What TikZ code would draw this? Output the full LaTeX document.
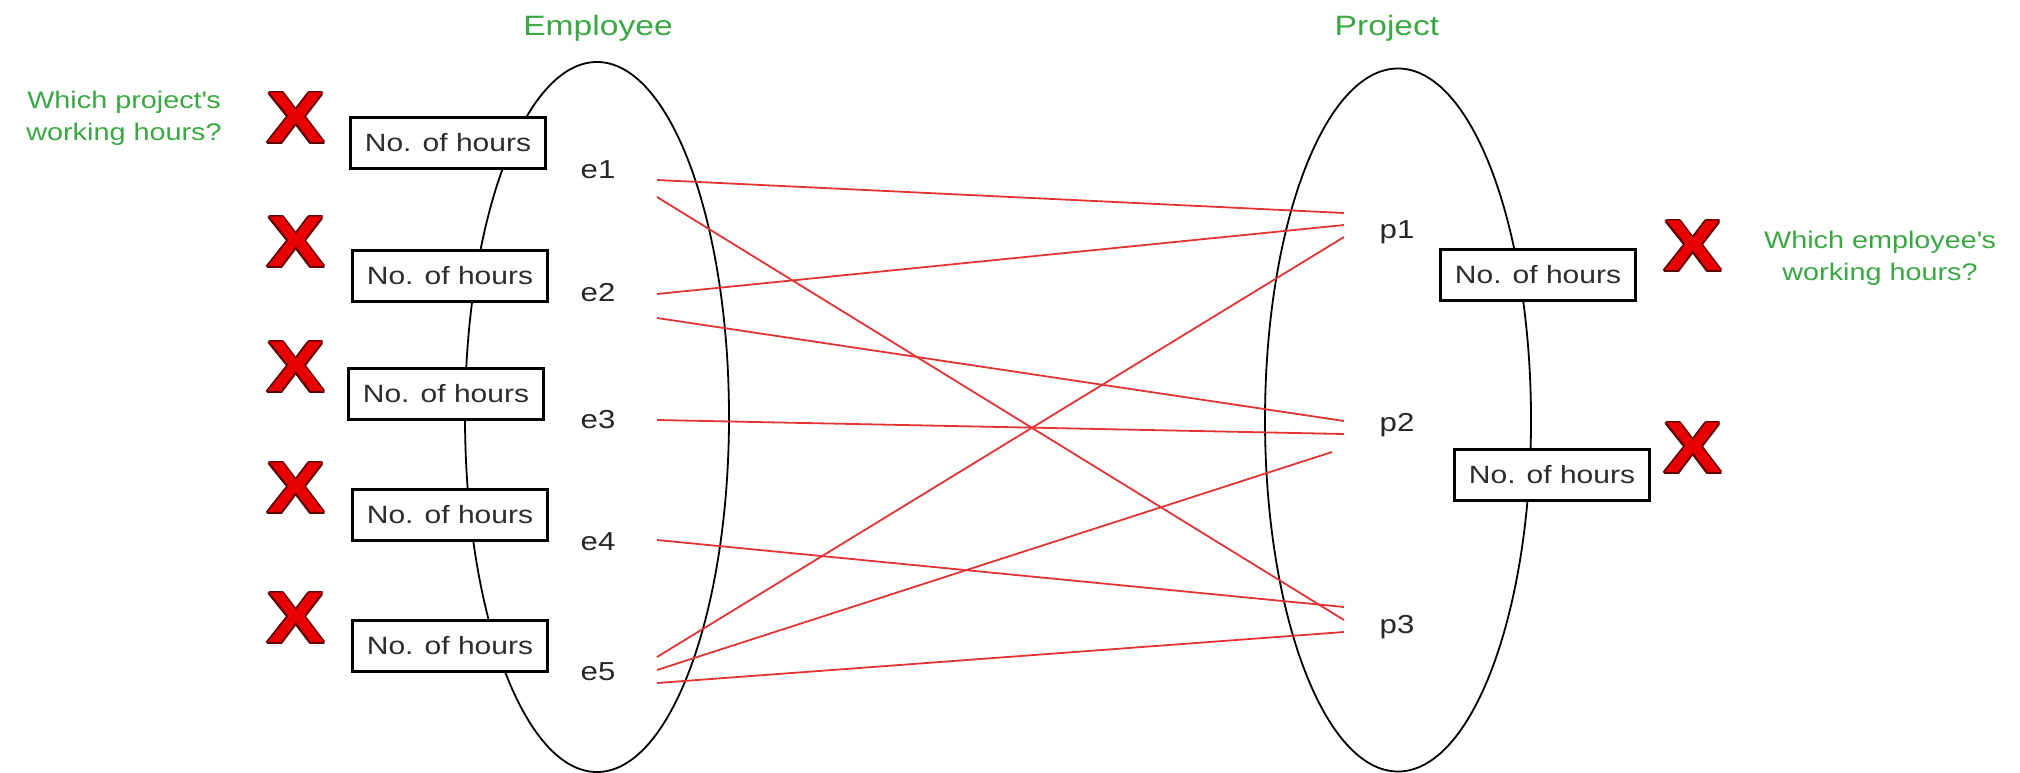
\documentclass[tikz,border=0pt]{standalone}
\usepackage{fontspec}
\setmainfont{Liberation Sans}[FakeStretch=1.2]
\usepackage{contour}
\contourlength{1.6pt}
\usetikzlibrary{shapes.geometric}
\definecolor{titlegreen}{RGB}{58,168,66}
\definecolor{linkred}{RGB}{226,52,52}
\definecolor{crossred}{RGB}{232,0,0}
\definecolor{crossedge}{RGB}{95,0,0}
\definecolor{boxtext}{RGB}{45,45,45}
\begin{document}
\begin{tikzpicture}[x=1pt,y=-1pt,
  entityset/.style={draw, ellipse, line width=1.8pt, inner sep=0pt},
  hours/.style={draw, fill=white, line width=2.4pt, minimum width=195pt,
    minimum height=51pt, inner sep=0pt, text=boxtext,
    font=\fontsize{25}{30}\selectfont},
  elem/.style={inner sep=0pt, text=black!85, font=\fontsize{26}{30}\selectfont},
  settitle/.style={anchor=base, inner sep=0pt, text=titlegreen,
    font=\fontsize{28}{32}\selectfont},
  question/.style={align=center, inner sep=0pt, text=titlegreen,
    font=\fontsize{24}{32}\selectfont},
  cross/.style={inner sep=0pt, text=crossred,
    font=\fontsize{72}{80}\selectfont\bfseries},
  link/.style={draw=linkred, line width=1.8pt}]
\useasboundingbox (0,0) rectangle (2020,773);

% entity sets
\node[entityset, minimum width=264pt, minimum height=710pt] (empset) at (597,417) {};
\node[entityset, minimum width=266pt, minimum height=703pt] (projset) at (1398,420) {};
\node[settitle] (emptitle) at (598,36) {Employee};
\node[settitle] (projtitle) at (1387,36) {Project};

% members
\node[elem] (e1) at (598,170) {e1};
\node[elem] (e2) at (598,293) {e2};
\node[elem] (e3) at (598,420) {e3};
\node[elem] (e4) at (598,542) {e4};
\node[elem] (e5) at (598,672) {e5};
\node[elem] (p1) at (1397,232) {p1};
\node[elem] (p2) at (1397,425) {p2};
\node[elem] (p3) at (1397,627) {p3};

% link end points
\coordinate (e1a) at (657,180);
\coordinate (e1b) at (657,197);
\coordinate (e2a) at (657,294);
\coordinate (e2b) at (657,318);
\coordinate (e3a) at (657,420);
\coordinate (e4a) at (657,540);
\coordinate (e5a) at (657,657);
\coordinate (e5b) at (657,670);
\coordinate (e5c) at (657,683);
\coordinate (p1a) at (1344,213);
\coordinate (p1b) at (1344,225);
\coordinate (p1c) at (1344,237);
\coordinate (p2a) at (1344,421);
\coordinate (p2b) at (1344,434);
\coordinate (p2c) at (1332,452);
\coordinate (p3a) at (1344,607);
\coordinate (p3b) at (1344,620);
\coordinate (p3c) at (1344,632);

% relationship lines
\draw[link] (e1a) -- (p1a);
\draw[link] (e1b) -- (p3b);
\draw[link] (e2a) -- (p1b);
\draw[link] (e2b) -- (p2a);
\draw[link] (e3a) -- (p2b);
\draw[link] (e4a) -- (p3a);
\draw[link] (e5a) -- (p1c);
\draw[link] (e5b) -- (p2c);
\draw[link] (e5c) -- (p3c);

% attribute boxes
\node[hours] (h1) at (448,143) {No. of hours};
\node[hours] (h2) at (450,276) {No. of hours};
\node[hours] (h3) at (446,394) {No. of hours};
\node[hours] (h4) at (450,515) {No. of hours};
\node[hours] (h5) at (450,646) {No. of hours};
\node[hours] (h6) at (1538,275) {No. of hours};
\node[hours] (h7) at (1552,475) {No. of hours};

% crosses
\node[cross] (x1) at (296,119) {\contour{crossedge}{X}};
\node[cross] (x2) at (296,243) {\contour{crossedge}{X}};
\node[cross] (x3) at (296,368) {\contour{crossedge}{X}};
\node[cross] (x4) at (296,489) {\contour{crossedge}{X}};
\node[cross] (x5) at (296,619) {\contour{crossedge}{X}};
\node[cross] (x6) at (1693,247) {\contour{crossedge}{X}};
\node[cross] (x7) at (1693,449) {\contour{crossedge}{X}};

% questions
\node[question] (q1) at (124,118) {Which project\textquotesingle s\\working hours?};
\node[question] (q2) at (1880,258) {Which employee\textquotesingle s\\working hours?};
\end{tikzpicture}
\end{document}
